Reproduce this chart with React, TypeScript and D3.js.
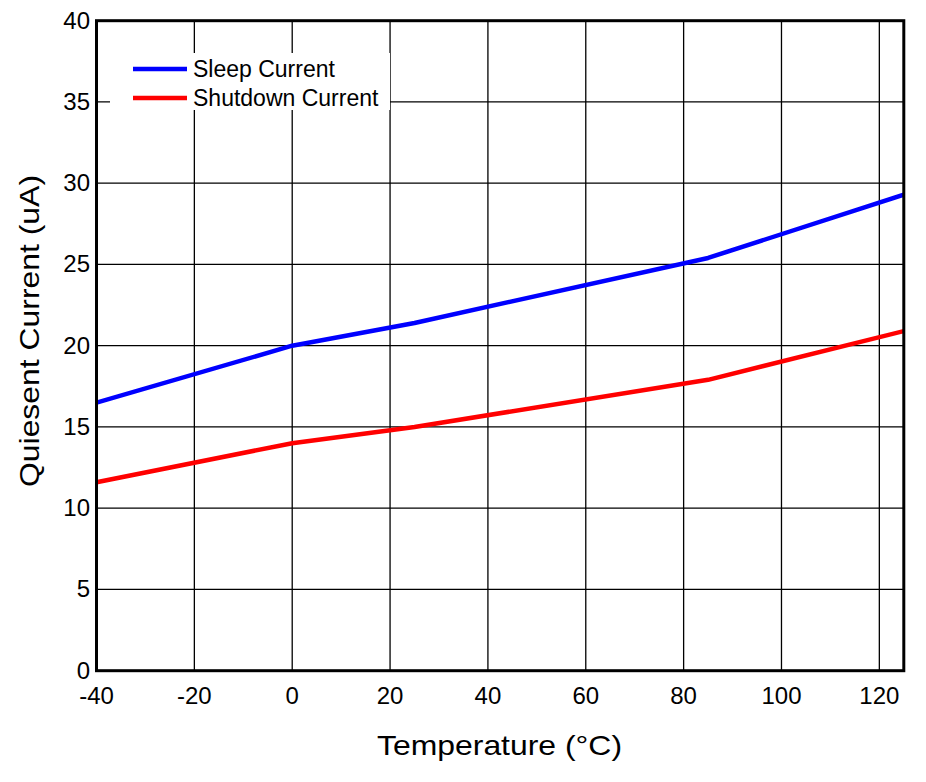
import React from "react";
import * as d3 from "d3";

const temps = [-40, 0, 25, 85, 125];
const sleepCurrent = [16.5, 20.0, 21.4, 25.4, 29.3];
const shutdownCurrent = [11.6, 14.0, 15.0, 17.9, 20.9];
const xTicks = [-40, -20, 0, 20, 40, 60, 80, 100, 120];
const yTicks = [0, 5, 10, 15, 20, 25, 30, 35, 40];
const seriesNames = ["Sleep Current", "Shutdown Current"];
const seriesColors = ["#0000ff", "#ff0000"];

const W = 926;
const H = 782;
const M = { left: 96.5, right: 903.8, top: 20.7, bottom: 670.7 };
const FONT = "Liberation Sans, Arial, sans-serif";

export default function App() {
  const x = d3.scaleLinear().domain([-40, 125]).range([M.left, M.right]);
  const y = d3.scaleLinear().domain([0, 40]).range([M.bottom, M.top]);
  const line = d3
    .line<[number, number]>()
    .x((d) => x(d[0]))
    .y((d) => y(d[1]));
  const series = [sleepCurrent, shutdownCurrent].map((vals) =>
    temps.map((t, i) => [t, vals[i]] as [number, number])
  );

  return (
    <svg
      width={W}
      height={H}
      style={{ position: "absolute", left: 0, top: 0, background: "#fff" }}
      fontFamily={FONT}
    >
      <rect x={0} y={0} width={W} height={H} fill="#fff" />
      {xTicks
        .filter((t) => t > -40)
        .map((t) => (
          <line key={"gx" + t} x1={x(t)} x2={x(t)} y1={M.top} y2={M.bottom} stroke="#000" strokeWidth={1.3} />
        ))}
      {yTicks
        .filter((t) => t > 0 && t < 40)
        .map((t) => (
          <line key={"gy" + t} x1={M.left} x2={M.right} y1={y(t)} y2={y(t)} stroke="#000" strokeWidth={1.3} />
        ))}
      <defs>
        <clipPath id="plotclip">
          <rect x={M.left} y={M.top} width={M.right - M.left} height={M.bottom - M.top} />
        </clipPath>
      </defs>
      <g clipPath="url(#plotclip)">
        {series.map((s, i) => (
          <path key={i} d={line(s) || ""} fill="none" stroke={seriesColors[i]} strokeWidth={4.5} strokeLinejoin="round" />
        ))}
      </g>
      <rect x={110} y={53} width={280} height={57} fill="#fff" />
      {seriesNames.map((n, i) => (
        <g key={n}>
          <line x1={133} x2={187} y1={69 + i * 29} y2={69 + i * 29} stroke={seriesColors[i]} strokeWidth={4.5} />
          <text x={193} y={77 + i * 29} fontSize={23} fill="#000">
            {n}
          </text>
        </g>
      ))}
      <rect x={M.left} y={M.top} width={M.right - M.left} height={M.bottom - M.top} fill="none" stroke="#000" strokeWidth={3} />
      {yTicks.map((t) => (
        <text key={"yl" + t} x={90} y={y(t) + 8} fontSize={24} textAnchor="end" fill="#000">
          {t}
        </text>
      ))}
      {xTicks.map((t) => (
        <text key={"xl" + t} x={x(t)} y={704} fontSize={24} textAnchor="middle" fill="#000">
          {t}
        </text>
      ))}
      <text x={499.5} y={755} fontSize={28} textAnchor="middle" fill="#000" textLength={245} lengthAdjust="spacingAndGlyphs">
        Temperature (°C)
      </text>
      <text
        transform={`translate(39,331) rotate(-90)`}
        fontSize={28}
        textAnchor="middle"
        fill="#000"
        textLength={312}
        lengthAdjust="spacingAndGlyphs"
      >
        Quiesent Current (uA)
      </text>
    </svg>
  );
}
